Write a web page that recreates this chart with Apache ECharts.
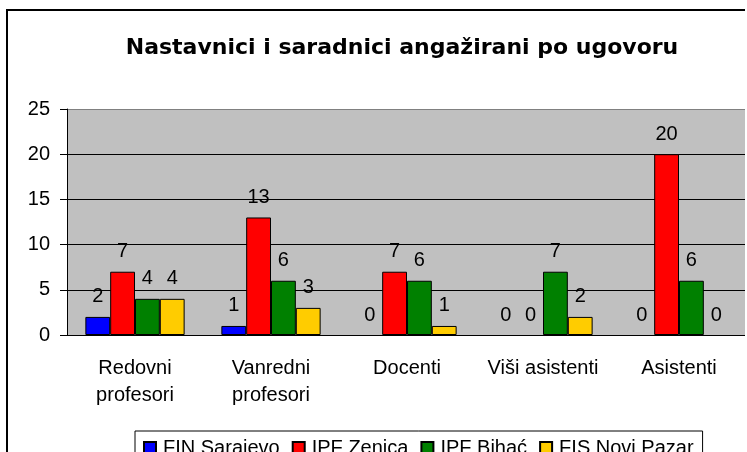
<!DOCTYPE html>
<html><head><meta charset="utf-8">
<script src="https://cdn.jsdelivr.net/npm/echarts@6/dist/echarts.min.js"></script>
<style>html,body{margin:0;padding:0;background:#fff}#c{width:747px;height:452px}</style>
</head><body><div id="c"></div>
<script>
const categories = ['Redovni\nprofesori', 'Vanredni\nprofesori', 'Docenti', 'Viši asistenti', 'Asistenti'];
const finSarajevo = [2, 1, 0, 0, 0];
const ipfZenica = [7, 13, 7, 0, 20];
const ipfBihac = [4, 6, 6, 7, 6];
const fisNoviPazar = [4, 3, 1, 2, 0];
const seriesNames = ['FIN Sarajevo', 'IPF Zenica', 'IPF Bihać', 'FIS Novi Pazar'];
const seriesColors = ['#0000FF', '#FF0000', '#008000', '#FFCC00'];
const yTicks = [0, 5, 10, 15, 20, 25];

const FONT = '"Liberation Sans", Arial, sans-serif';
const chart = echarts.init(document.getElementById('c'), null, {renderer: 'canvas'});
const data = [finSarajevo, ipfZenica, ipfBihac, fisNoviPazar];
chart.setOption({
  animation: false,
  backgroundColor: '#fff',
  title: {
    text: 'Nastavnici i saradnici angažirani po ugovoru',
    left: 397, textAlign: 'center', top: 32,
    textStyle: {fontFamily: '"DejaVu Sans", sans-serif', fontSize: 22, fontWeight: 'bold', color: '#000'}
  },
  legend: {
    left: 135, top: 431,
    data: seriesNames,
    icon: 'rect',
    itemWidth: 12, itemHeight: 12, itemGap: 12,
    padding: [7, 9, 7, 8],
    borderColor: '#000', borderWidth: 1,
    textStyle: {fontFamily: FONT, fontSize: 20, color: '#000', padding: [0, 0, 0, 2]}
  },
  grid: {left: 67, top: 109, bottom: 117, right: -27.5, show: true, backgroundColor: '#C0C0C0', borderWidth: 0},
  xAxis: {
    type: 'category', data: categories,
    axisLine: {lineStyle: {color: '#000', width: 1}},
    axisTick: {length: 6, lineStyle: {color: '#000'}},
    axisLabel: {fontFamily: FONT, fontSize: 20, color: '#000', margin: 20, lineHeight: 27, interval: 0}
  },
  yAxis: {
    type: 'value', min: yTicks[0], max: yTicks[yTicks.length - 1], interval: 5,
    axisLine: {show: true, lineStyle: {color: '#000', width: 1}},
    axisTick: {show: true, length: 7, lineStyle: {color: '#000'}},
    axisLabel: {fontFamily: FONT, fontSize: 20, color: '#000', margin: 17},
    splitLine: {show: true, lineStyle: {color: ['#000', '#000', '#000', '#000', '#000', '#808080'], width: 1}}
  },
  series: seriesNames.map((n, i) => ({
    name: n, type: 'bar',
    data: data[i].map(v => v === 0 ? {value: v, itemStyle: {borderWidth: 0}} : v),
    barGap: '0%', barCategoryGap: '27%',
    itemStyle: {color: seriesColors[i], borderColor: '#000', borderWidth: 1},
    label: {show: true, position: 'top', distance: 10, fontFamily: FONT, fontSize: 20, color: '#000'}
  })),
  graphic: [
    {type: 'rect', z: 100, shape: {x: 7, y: 10, width: 1000, height: 1000}, style: {fill: 'none', stroke: '#000', lineWidth: 2}},
    {type: 'rect', z: 101, shape: {x: 745, y: 0, width: 10, height: 452}, style: {fill: '#fff'}}
  ]
});
</script></body></html>
